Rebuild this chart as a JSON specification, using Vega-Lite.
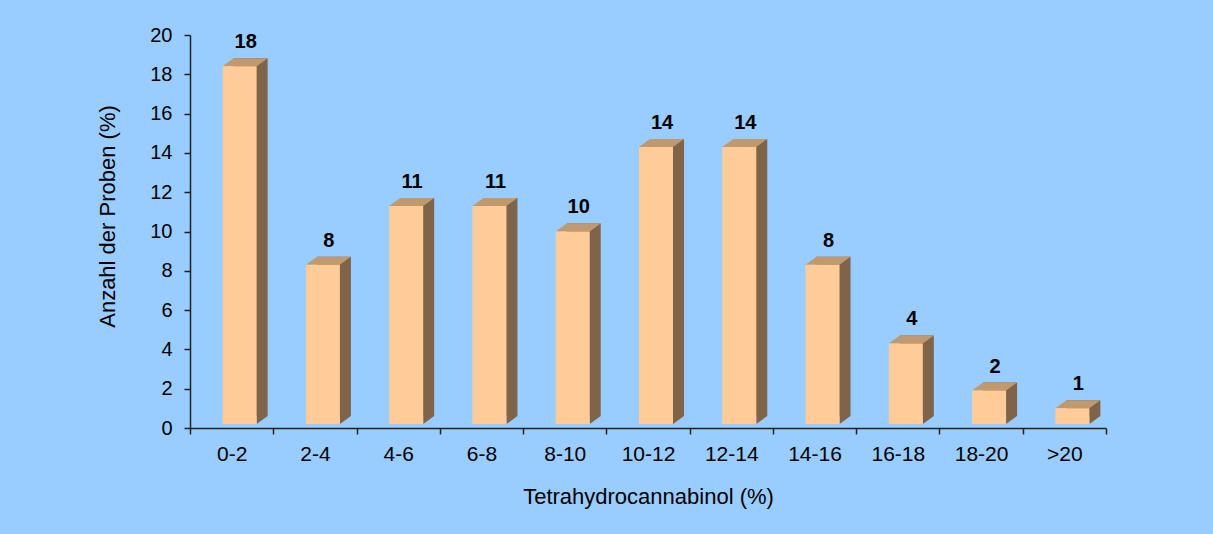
{
  "$schema": "https://vega.github.io/schema/vega-lite/v6.json",
  "width": 916,
  "height": 393,
  "autosize": "none",
  "padding": {"left": 190, "top": 35, "right": 107, "bottom": 106},
  "background": "#99CCFF",
  "config": {
    "view": {"stroke": null},
    "font": "Liberation Sans",
    "axis": {
      "domainColor": "#222222",
      "tickColor": "#222222",
      "labelColor": "#000000",
      "titleColor": "#000000",
      "labelFont": "Liberation Sans",
      "titleFont": "Liberation Sans",
      "grid": false,
      "domainWidth": 1.5,
      "tickWidth": 1.5,
      "labelOverlap": false
    }
  },
  "data": {
    "values": [
      {"cat": "0-2", "value": 18.2},
      {"cat": "2-4", "value": 8.1},
      {"cat": "4-6", "value": 11.1},
      {"cat": "6-8", "value": 11.1},
      {"cat": "8-10", "value": 9.8},
      {"cat": "10-12", "value": 14.1},
      {"cat": "12-14", "value": 14.1},
      {"cat": "14-16", "value": 8.1},
      {"cat": "16-18", "value": 4.1},
      {"cat": "18-20", "value": 1.7},
      {"cat": ">20", "value": 0.8}
    ]
  },
  "encoding": {
    "x": {
      "field": "cat",
      "type": "nominal",
      "sort": null,
      "scale": {"paddingInner": 0, "paddingOuter": 0},
      "axis": {
        "title": "Tetrahydrocannabinol (%)",
        "titleFontSize": 22,
        "titleFontWeight": "normal",
        "titleBaseline": "alphabetic",
        "titleY": 75,
        "labelAngle": 0,
        "labelFontSize": 21,
        "labelPadding": 9,
        "tickSize": 6,
        "tickBand": "extent"
      }
    },
    "y": {
      "field": "value",
      "type": "quantitative",
      "scale": {"domain": [0, 20], "nice": false},
      "axis": {
        "title": "Anzahl der Proben (%)",
        "titleFontSize": 22,
        "titleFontWeight": "normal",
        "titleX": -83,
        "titleY": 181,
        "titleBaseline": "middle",
        "titleAlign": "center",
        "values": [0, 2, 4, 6, 8, 10, 12, 14, 16, 18, 20],
        "tickCount": 20,
        "labelFontSize": 20,
        "labelPadding": 12,
        "labelOverlap": false,
        "tickSize": 6
      }
    }
  },
  "layer": [
    {
      "mark": {"type": "bar", "size": 34, "xOffset": 19, "x2Offset": 19, "yOffset": -12, "y2Offset": -12, "color": "#7F6449"}
    },
    {
      "mark": {"type": "point", "shape": "M 25 -4 L 36 -12 L 25 -12 Z", "size": 4, "filled": true, "opacity": 1, "color": "#7F6449", "strokeWidth": 0},
      "encoding": {
        "y": {
          "datum": 0,
          "type": "quantitative",
          "scale": {"domain": [0, 20], "nice": false},
          "axis": {
            "title": "Anzahl der Proben (%)",
            "titleFontSize": 22,
            "titleFontWeight": "normal",
            "titleX": -83,
            "titleY": 181,
            "titleBaseline": "middle",
            "titleAlign": "center",
            "values": [0, 2, 4, 6, 8, 10, 12, 14, 16, 18, 20],
            "tickCount": 20,
            "labelFontSize": 20,
            "labelPadding": 12,
            "labelOverlap": false,
            "tickSize": 6
          }
        }
      }
    },
    {
      "mark": {"type": "point", "shape": "M -9 -4 L 25 -4 L 36 -12 L 2 -12 Z", "size": 4, "filled": true, "opacity": 1, "color": "#C0996E", "strokeWidth": 0}
    },
    {
      "mark": {"type": "bar", "size": 34, "xOffset": 8, "x2Offset": 8, "yOffset": -4, "y2Offset": -4, "color": "#FFCC99"}
    },
    {
      "mark": {"type": "text", "xOffset": 14, "yOffset": -22, "baseline": "alphabetic", "fontSize": 20, "fontWeight": "bold", "color": "#000000", "font": "Liberation Sans"},
      "encoding": {
        "text": {"field": "value", "type": "quantitative", "format": ".0f"}
      }
    }
  ]
}
